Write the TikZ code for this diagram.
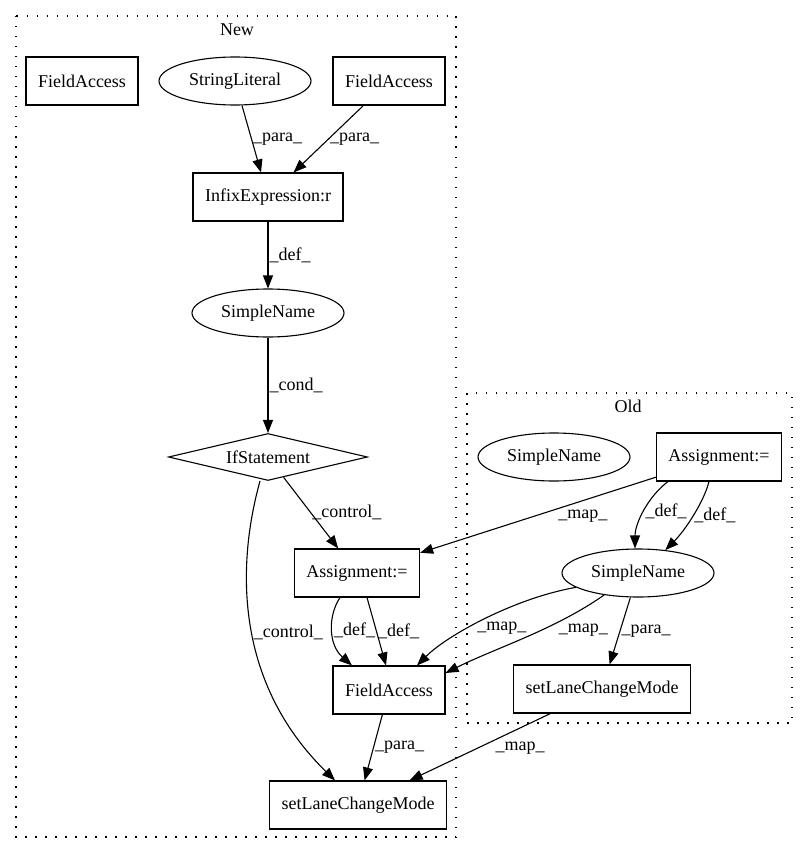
\documentclass[tikz,border=0pt]{standalone}
\usepackage{fontspec}
\setmainfont{Liberation Serif}
\usetikzlibrary{shapes.geometric,arrows.meta}
\tikzstyle{block} = [draw, fill=white, rectangle, inner xsep=12pt,
    minimum height=48pt]
\tikzstyle{oval} = [draw, fill=white, ellipse, inner sep=0pt,
    minimum width=152pt, minimum height=48pt]
\tikzstyle{decision} = [draw, fill=white, diamond, aspect=4.2, inner sep=0pt,
    minimum width=199pt, minimum height=47pt]
\tikzstyle{lbl} = [inner sep=1pt]
\tikzstyle{cluster} = [draw, dash pattern=on 1.5pt off 8.5pt]

\begin{document}
\begin{tikzpicture}[x=1pt, y=-1pt, line width=1.1pt,
    font=\fontsize{18pt}{21pt}\selectfont,
    >={Triangle[length=13pt,width=10pt]}]
    \useasboundingbox (0,0) rectangle (808,856);
    % The two clusters first
    \draw [cluster] (16,16) rectangle (456,837);
    \draw [cluster] (467,393) rectangle (792,723);
    \node (newlbl) at (237,30) {New};
    \node (oldlbl) at (628,406) {Old};

    % We place the nodes of the New part
    \node [block] (faL) at (82,81) {FieldAccess};
    \node [oval] (strlit) at (235,81) {StringLiteral};
    \node [block] (faR) at (389,81) {FieldAccess};
    \node [block] (infix) at (268,197) {InfixExpression:r};
    \node [oval] (snN) at (268,313) {SimpleName};
    \node [decision] (ifst) at (268,457) {IfStatement};
    \node [block] (asgN) at (357,573) {Assignment:=};
    \node [block] (faM) at (389,690) {FieldAccess};
    \node [block] (setB) at (358,805) {setLaneChangeMode};

    % and the nodes of the Old part
    \node [oval] (snOld1) at (554,457) {SimpleName};
    \node [block] (asgO) at (719,457) {Assignment:=};
    \node [oval] (snOld2) at (638,573) {SimpleName};
    \node [block] (setO) at (602,689) {setLaneChangeMode};

    % Once the nodes are placed, connecting them is easy.
    \draw [->] (strlit) -- node[lbl, right] {\_para\_} (infix);
    \draw [->] (faR) -- node[lbl, right] {\_para\_} (infix);
    \draw [->] (infix) -- node[lbl, right] {\_def\_} (snN);
    \draw [->] (snN) -- node[lbl, right] {\_cond\_} (ifst);
    \draw [->] (ifst) -- node[lbl, right] {\_control\_} (asgN);
    \draw [->] ([xshift=-8pt]ifst.south) .. controls +(-22,79) and +(-103,-101) ..
        node[lbl, right, pos=0.53] {\_control\_} ([xshift=-23pt]setB.north);
    \draw [->] ([xshift=-17pt]asgN.south) .. controls +(-12,18) and +(-24,-21) ..
        node[lbl, right] {\_def\_} ([xshift=-37pt]faM.north);
    \draw [->] ([xshift=10pt]asgN.south) -- node[lbl, right] {\_def\_}
        ([xshift=-3pt]faM.north);
    \draw [->] (faM) -- node[lbl, right] {\_para\_} (setB);

    % edges that leave the Old part
    \draw [->] (asgO) -- node[lbl, below right, pos=0.42] {\_map\_} (asgN);
    \draw [->] ([xshift=-51pt]asgO.south) .. controls +(-20,15) and +(0,-25) ..
        node[lbl, right] {\_def\_} ([xshift=-3pt]snOld2.north);
    \draw [->] ([xshift=-10pt]asgO.south) .. controls +(-5,20) and +(20,-20) ..
        node[lbl, right] {\_def\_} (snOld2.40);
    \draw [->] (snOld2.193) .. controls +(-62,11) and +(30,-30) ..
        node[lbl, below=10pt, pos=0.4] {\_map\_} ([xshift=28pt]faM.north);
    \draw [->] (snOld2.213) .. controls +(-50,35) and +(50,-25) ..
        node[lbl, below right, pos=0.3] {\_map\_} ([yshift=17pt]faM.east);
    \draw [->] (snOld2) -- node[lbl, right] {\_para\_} (setO);
    \draw [->] (setO) -- node[lbl, below right, pos=0.4] {\_map\_} (setB);
\end{tikzpicture}
\end{document}
